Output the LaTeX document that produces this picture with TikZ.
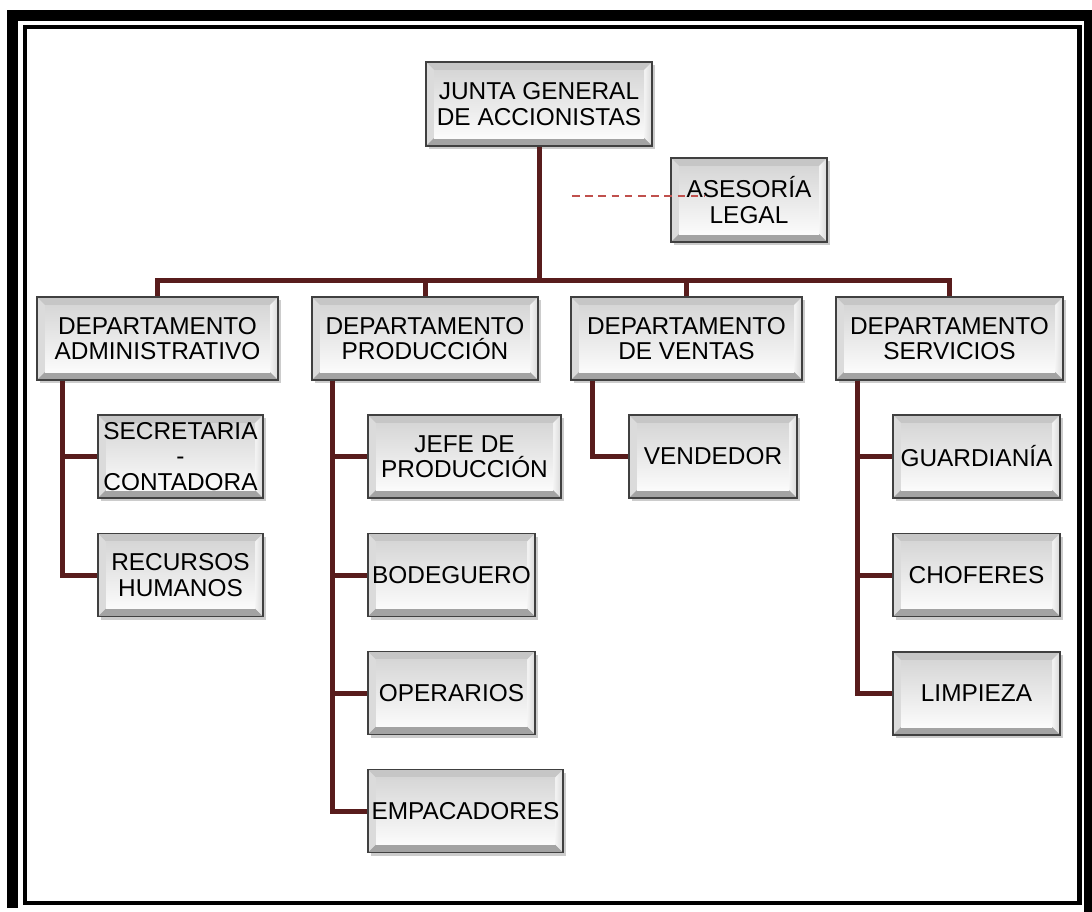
\documentclass[tikz,border=0pt]{standalone}
\usepackage{fontspec}
\setmainfont{Liberation Sans}
\usetikzlibrary{shadows}

\definecolor{linea}{RGB}{88,28,28}
\definecolor{rojo}{RGB}{192,80,77}
\newcommand{\orgfont}{\fontsize{12.2}{12.6}\selectfont}
% bevel of the gray boxes
\newcommand{\bisel}{%
  \coordinate (bnw) at (path picture bounding box.north west);
  \coordinate (bne) at (path picture bounding box.north east);
  \coordinate (bsw) at (path picture bounding box.south west);
  \coordinate (bse) at (path picture bounding box.south east);
  \fill[gray!45] (bnw) -- (bne) -- ([shift={(-4pt,-4pt)}]bne) -- ([shift={(4pt,-4pt)}]bnw) -- cycle;
  \fill[gray!28] (bnw) -- (bsw) -- ([shift={(4pt,4pt)}]bsw) -- ([shift={(4pt,-4pt)}]bnw) -- cycle;
  \shade[left color=gray!8, right color=gray!30] (bne) -- (bse) -- ([shift={(-4pt,4pt)}]bse) -- ([shift={(-4pt,-4pt)}]bne) -- cycle;
  \fill[gray!72] (bsw) -- (bse) -- ([shift={(-4pt,4pt)}]bse) -- ([shift={(4pt,4pt)}]bsw) -- cycle;
  \shade[top color=gray!32, bottom color=gray!3] ([shift={(4pt,4pt)}]bsw) rectangle ([shift={(-4pt,-4pt)}]bne);
}

\tikzset{
  orgbox/.style={draw=gray!50!black, line width=0.6pt, fill=gray!50, inner sep=0pt,
    minimum height=41.5pt, align=center, font=\orgfont,
    drop shadow={shadow xshift=1.5pt, shadow yshift=-1.5pt, opacity=0.4},
    path picture={\bisel}},
  conn/.style={draw=linea, line width=2.5pt},
  asesor/.style={draw=rojo, line width=1.4pt, dash pattern=on 3.8pt off 2.8pt},
}

\begin{document}
\begin{tikzpicture}[x=0.5pt,y=-0.5pt]
    \path[use as bounding box] (0,0) rectangle (1092,911);
    \clip (0,0) rectangle (1092,911);

    % frame
    \draw[line width=5.5pt] (12.5,908) -- (12.5,15.5) -- (1089,15.5) -- (1089,915);
    \draw[line width=2.2pt] (25,27) rectangle (1079.5,903);

    % top
    \node[orgbox, minimum width=113pt, minimum height=42pt] (junta) at (539,104) {JUNTA GENERAL\\DE ACCIONISTAS};
    \node[orgbox, minimum width=78pt, minimum height=42pt] (asesoria) at (749,200) {ASESORÍA\\LEGAL};

    % departments
    \node[orgbox, minimum width=120.5pt] (admin) at (157.5,338.5) {DEPARTAMENTO\\ADMINISTRATIVO};
    \node[orgbox, minimum width=113pt] (prod) at (425,338.5) {DEPARTAMENTO\\PRODUCCIÓN};
    \node[orgbox, minimum width=115.5pt] (ventas) at (686.5,338.5) {DEPARTAMENTO\\DE VENTAS};
    \node[orgbox, minimum width=113.5pt] (serv) at (949.5,338.5) {DEPARTAMENTO\\SERVICIOS};

    % staff
    \node[orgbox, minimum width=82.5pt] (secre) at (180.5,456.5) {SECRETARIA\\-\\CONTADORA};
    \node[orgbox, minimum width=82.5pt] (rrhh) at (180.5,575) {RECURSOS\\HUMANOS};
    \node[orgbox, minimum width=96.5pt] (jefe) at (464.5,456.5) {JEFE DE\\PRODUCCIÓN};
    \node[orgbox, minimum width=83.5pt] (bodega) at (451.5,575) {BODEGUERO};
    \node[orgbox, minimum width=83.5pt] (operarios) at (451.5,693) {OPERARIOS};
    \node[orgbox, minimum width=97.5pt] (empaque) at (465.5,811) {EMPACADORES};
    \node[orgbox, minimum width=84pt] (vendedor) at (713,456.5) {VENDEDOR};
    \node[orgbox, minimum width=83.5pt] (guardia) at (976.5,456.5) {GUARDIANÍA};
    \node[orgbox, minimum width=83.5pt] (choferes) at (976.5,575) {CHOFERES};
    \node[orgbox, minimum width=83.5pt] (limpieza) at (976.5,693.5) {LIMPIEZA};

    % lines
    \coordinate (bar) at (539,280);
    \draw[conn] (junta.south) -- (bar);
    \draw[conn] (admin.north) |- (bar) -| (serv.north);
    \draw[conn] (prod.north) -- (prod.north |- bar);
    \draw[conn] (ventas.north) -- (ventas.north |- bar);

    \foreach \c in {secre,rrhh}
        \draw[conn] ([xshift=13pt]admin.south west) |- (\c.west);
    \foreach \c in {jefe,bodega,operarios,empaque}
        \draw[conn] ([xshift=10.5pt]prod.south west) |- (\c.west);
    \draw[conn] ([xshift=11pt]ventas.south west) |- (vendedor.west);
    \foreach \c in {guardia,choferes,limpieza}
        \draw[conn] ([xshift=11pt]serv.south west) |- (\c.west);

    \coordinate (dashstart) at (572,196);
    \draw[asesor] (dashstart) -- ([xshift=17pt]asesoria.west |- dashstart);
\end{tikzpicture}
\end{document}
